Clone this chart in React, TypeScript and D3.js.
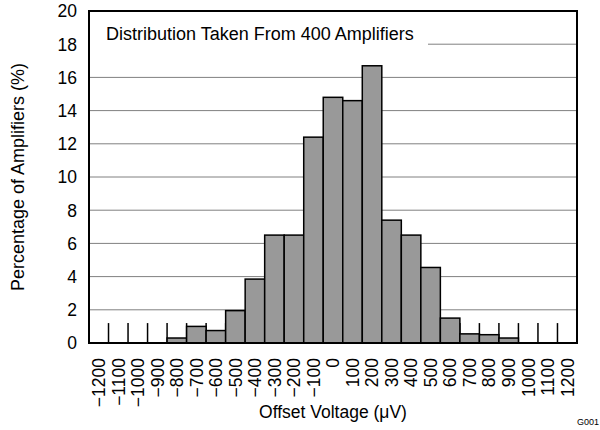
import React from "react";
import * as d3 from "d3";

const categories: number[] = [
  -1200, -1100, -1000, -900, -800, -700, -600, -500, -400, -300, -200, -100,
  0, 100, 200, 300, 400, 500, 600, 700, 800, 900, 1000, 1100, 1200,
];
const percentages: number[] = [
  0, 0, 0, 0, 0.3, 1.0, 0.75, 1.95, 3.85, 6.5, 6.5, 12.4, 14.8, 14.6, 16.7,
  7.4, 6.5, 4.55, 1.5, 0.55, 0.5, 0.3, 0, 0, 0,
];
const yTicks: number[] = [0, 2, 4, 6, 8, 10, 12, 14, 16, 18, 20];
const gridValues: number[] = [2, 4, 6, 8, 10, 12, 14, 16, 18];
const legendText = "Distribution Taken From 400 Amplifiers";
const xTitle = "Offset Voltage (\u03BCV)";
const yTitle = "Percentage of Amplifiers (%)";
const binTickHeight = 1.2;

const FONT = "'Liberation Sans', Arial, Helvetica, sans-serif";

export default function App() {
  const W = 600;
  const H = 430;
  const left = 89;
  const right = 577;
  const top = 11;
  const bottom = 343;

  const x = d3
    .scaleBand<string>()
    .domain(categories.map(String))
    .range([left, right])
    .padding(0);
  const y = d3.scaleLinear().domain([0, 20]).range([bottom, top]);
  const bw = x.bandwidth();

  const fmt = (v: number) => (v < 0 ? "\u2212" + Math.abs(v) : String(v));

  return (
    <svg
      width={W}
      height={H}
      style={{ position: "absolute", left: 0, top: 0, background: "#fff" }}
      fontFamily={FONT}
    >
      <rect x={0} y={0} width={W} height={H} fill="#fff" />
      {/* gridlines */}
      {gridValues.map((g) => (
        <line
          key={"g" + g}
          x1={left}
          x2={right}
          y1={y(g)}
          y2={y(g)}
          stroke="#808080"
          strokeWidth={1}
        />
      ))}
      {/* legend text box */}
      <rect x={left + 1} y={top + 1} width={338} height={38} fill="#fff" />
      <text x={106} y={40} fontSize={18} fill="#000">
        {legendText}
      </text>
      {/* bin boundary ticks */}
      {categories.slice(1).map((c) => {
        const bx = x(String(c)) as number;
        return (
          <line
            key={"t" + c}
            x1={bx}
            x2={bx}
            y1={y(0)}
            y2={y(binTickHeight)}
            stroke="#000"
            strokeWidth={1.5}
          />
        );
      })}
      {/* bars */}
      {categories.map((c, i) =>
        percentages[i] > 0 ? (
          <rect
            key={"b" + c}
            x={x(String(c)) as number}
            y={y(percentages[i])}
            width={bw}
            height={y(0) - y(percentages[i])}
            fill="#999999"
            stroke="#000"
            strokeWidth={1.5}
          />
        ) : null
      )}
      {/* frame */}
      <rect
        x={left}
        y={top}
        width={right - left}
        height={bottom - top}
        fill="none"
        stroke="#000"
        strokeWidth={2}
      />
      {/* y tick labels */}
      {yTicks.map((t) => (
        <text
          key={"yl" + t}
          x={77}
          y={y(t)}
          dy="0.36em"
          textAnchor="end"
          fontSize={17.5}
          fill="#000"
        >
          {t}
        </text>
      ))}
      {/* x tick labels */}
      {categories.map((c) => {
        const cx = (x(String(c)) as number) + bw / 2;
        return (
          <text
            key={"xl" + c}
            transform={`translate(${cx},${358}) rotate(-90)`}
            textAnchor="end"
            dy="0.36em"
            fontSize={17.5}
            fill="#000"
          >
            {fmt(c)}
          </text>
        );
      })}
      {/* axis titles */}
      <text
        x={(left + right) / 2}
        y={418}
        textAnchor="middle"
        fontSize={17.5}
        fill="#000"
      >
        {xTitle}
      </text>
      <text
        transform={`translate(24,${(top + bottom) / 2}) rotate(-90)`}
        textAnchor="middle"
        fontSize={18}
        fill="#000"
      >
        {yTitle}
      </text>
      <text x={599} y={425} textAnchor="end" fontSize={9} fill="#000">
        G001
      </text>
    </svg>
  );
}
